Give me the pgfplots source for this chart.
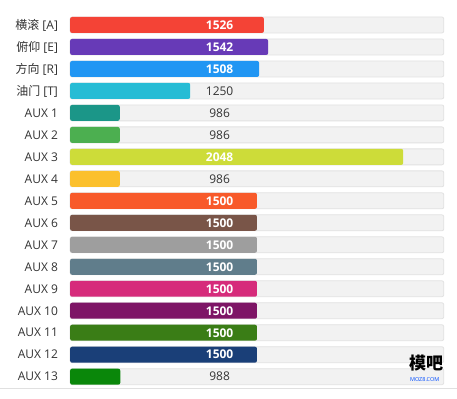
\documentclass[border=0pt]{standalone}
\usepackage{pgfplots}
\pgfplotsset{compat=1.18}
\usepackage{fontspec}
\setmainfont{Open Sans}
\newfontfamily\cjk{Noto Sans CJK SC}
\definecolor{c0}{HTML}{F44336}
\definecolor{c1}{HTML}{673AB7}
\definecolor{c2}{HTML}{2196F3}
\definecolor{c3}{HTML}{26BCD5}
\definecolor{c4}{HTML}{1B9688}
\definecolor{c5}{HTML}{4CAF50}
\definecolor{c6}{HTML}{CDDC39}
\definecolor{c7}{HTML}{FBC02D}
\definecolor{c8}{HTML}{F85A2A}
\definecolor{c9}{HTML}{795548}
\definecolor{c10}{HTML}{9E9E9E}
\definecolor{c11}{HTML}{607D8B}
\definecolor{c12}{HTML}{D62B7B}
\definecolor{c13}{HTML}{7E1566}
\definecolor{c14}{HTML}{3A7D16}
\definecolor{c15}{HTML}{1A3F78}
\definecolor{c16}{HTML}{0A870A}
\definecolor{track}{HTML}{F2F2F2}
\definecolor{trackb}{HTML}{E2E2E2}
\definecolor{lbl}{HTML}{333333}
\begin{document}
\begin{tikzpicture}[x=1pt,y=1pt]
\fill[white] (0,0) rectangle (457,399);
\draw[black!12] (0,10.5) -- (457,10.5);
\begin{axis}[
  at={(70pt,11pt)}, anchor=south west,
  scale only axis, width=374pt, height=374pt,
  xmin=0, xmax=1400, ymin=-0.5, ymax=16.5, y dir=reverse,
  x filter/.expression={x-800},
  axis line style={draw=none}, tick style={draw=none},
  xtick=\empty,
  ytick={0,...,16},
  yticklabels={{\cjk 横滚} [A],{\cjk 俯仰} [E],{\cjk 方向} [R],{\cjk 油门} [T],AUX 1,AUX 2,AUX 3,AUX 4,AUX 5,AUX 6,AUX 7,AUX 8,AUX 9,AUX 10,AUX 11,AUX 12,AUX 13},
  yticklabel style={anchor=east, inner sep=0pt, xshift=-12pt, font=\fontsize{12}{14}\selectfont, text=lbl},
  clip=false,
  every axis plot/.append style={bar width=16pt, bar shift=0pt},
]
\addplot[xbar, fill=track, draw=trackb, line width=0.8pt, rounded corners=2pt] coordinates {
(2200,0) (2200,1) (2200,2) (2200,3) (2200,4) (2200,5) (2200,6) (2200,7) (2200,8)
(2200,9) (2200,10) (2200,11) (2200,12) (2200,13) (2200,14) (2200,15) (2200,16)};
\addplot[xbar, fill=c0, draw=none, rounded corners=2pt] coordinates {(1526,0)};
\addplot[xbar, fill=c1, draw=none, rounded corners=2pt] coordinates {(1542,1)};
\addplot[xbar, fill=c2, draw=none, rounded corners=2pt] coordinates {(1508,2)};
\addplot[xbar, fill=c3, draw=none, rounded corners=2pt] coordinates {(1250,3)};
\addplot[xbar, fill=c4, draw=none, rounded corners=2pt] coordinates {(986,4)};
\addplot[xbar, fill=c5, draw=none, rounded corners=2pt] coordinates {(986,5)};
\addplot[xbar, fill=c6, draw=none, rounded corners=2pt] coordinates {(2048,6)};
\addplot[xbar, fill=c7, draw=none, rounded corners=2pt] coordinates {(986,7)};
\addplot[xbar, fill=c8, draw=none, rounded corners=2pt] coordinates {(1500,8)};
\addplot[xbar, fill=c9, draw=none, rounded corners=2pt] coordinates {(1500,9)};
\addplot[xbar, fill=c10, draw=none, rounded corners=2pt] coordinates {(1500,10)};
\addplot[xbar, fill=c11, draw=none, rounded corners=2pt] coordinates {(1500,11)};
\addplot[xbar, fill=c12, draw=none, rounded corners=2pt] coordinates {(1500,12)};
\addplot[xbar, fill=c13, draw=none, rounded corners=2pt] coordinates {(1500,13)};
\addplot[xbar, fill=c14, draw=none, rounded corners=2pt] coordinates {(1500,14)};
\addplot[xbar, fill=c15, draw=none, rounded corners=2pt] coordinates {(1500,15)};
\addplot[xbar, fill=c16, draw=none, rounded corners=2pt] coordinates {(988,16)};
% value labels (white)
\addplot[only marks, mark=none, point meta=explicit symbolic, nodes near coords,
  nodes near coords align=center,
  every node near coord/.append style={anchor=center, text=white, font=\fontsize{12}{14}\selectfont\bfseries}]
  coordinates {(1360,0) [1526] (1360,1) [1542] (1360,2) [1508] (1360,6) [2048]
  (1360,8) [1500] (1360,9) [1500] (1360,10) [1500] (1360,11) [1500]
  (1360,12) [1500] (1360,13) [1500] (1360,14) [1500] (1360,15) [1500]};
% value labels (dark)
\addplot[only marks, mark=none, point meta=explicit symbolic, nodes near coords,
  nodes near coords align=center,
  every node near coord/.append style={anchor=center, text=lbl, font=\fontsize{12}{14}\selectfont}]
  coordinates {(1360,3) [1250] (1360,4) [986] (1360,5) [986] (1360,7) [986] (1360,16) [988]};
\end{axis}
\node[anchor=west, inner sep=0pt, font=\cjk\bfseries\fontsize{17}{18}\selectfont] at (409,36) {模吧};
\node[anchor=west, inner sep=0pt, text=blue!70!cyan, font=\fontsize{5.5}{6}\selectfont] at (410,19) {MOZ8.COM};
\end{tikzpicture}
\end{document}
